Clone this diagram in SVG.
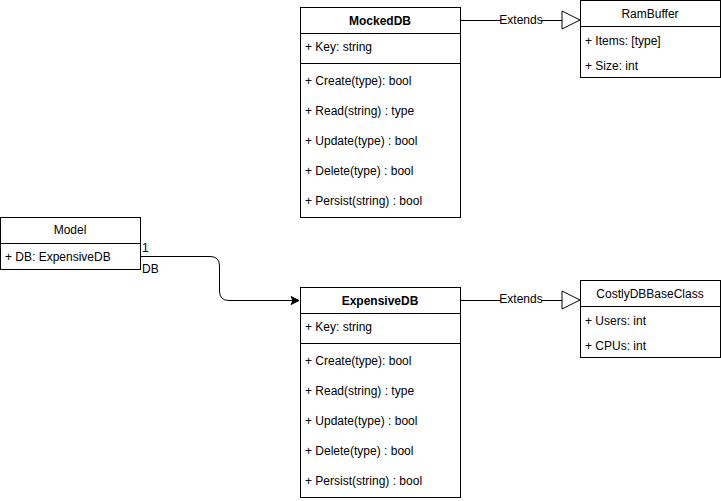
<svg xmlns="http://www.w3.org/2000/svg" width="721" height="501" viewBox="0 0 721 501">
<defs>
<style>
text{font-family:"Liberation Sans",Arial,sans-serif;font-size:12px;fill:#000;dominant-baseline:central}
.box{fill:#fff;stroke:#000;stroke-width:1}
.ln{stroke:#000;stroke-width:1;fill:none}
.t{text-anchor:middle}
.b{font-weight:bold}
</style>
<marker id="arr" markerWidth="10" markerHeight="10" refX="9" refY="5" orient="auto" markerUnits="userSpaceOnUse">
<path d="M1,1 L9,5 L1,9 L3,5 Z" fill="#000" stroke="#000"/>
</marker>
</defs>
<rect width="721" height="501" fill="#fff"/>

<g id="connectors">
<path class="ln" d="M460.5,20.5 H562"/>
<polygon points="562,11 580,20 562,29" fill="#fff" stroke="#000"/>
<rect x="501" y="13" width="40" height="14" fill="#fff"/>
<text x="521" y="20" class="t" font-size="11">Extends</text>

<path class="ln" d="M460.5,300.5 H562"/>
<polygon points="562,291 580,300 562,309" fill="#fff" stroke="#000"/>
<rect x="501" y="293" width="40" height="14" fill="#fff"/>
<text x="521" y="299" class="t" font-size="11">Extends</text>

<path class="ln" d="M140,256.5 H210 Q219.5,256.5 219.5,266 V291 Q219.5,300.5 229,300.5 H299" marker-end="url(#arr)"/>
<text x="142" y="248" font-size="10">1</text>
<text x="142" y="269" font-size="11">DB</text>
</g>

<g id="MockedDB">
<rect class="box" x="300.5" y="7.5" width="160" height="210"/>
<path class="ln" d="M300.5,33.5 H460.5 M300.5,63.5 H460.5"/>
<text x="380" y="20.5" class="t b">MockedDB</text>
<text x="305" y="47">+ Key: string</text>
<text x="305" y="80.5">+ Create(type): bool</text>
<text x="305" y="110.5">+ Read(string) : type</text>
<text x="305" y="140.5">+ Update(type) : bool</text>
<text x="305" y="170.5">+ Delete(type) : bool</text>
<text x="305" y="200.5">+ Persist(string) : bool</text>
</g>

<g id="ExpensiveDB">
<rect class="box" x="300.5" y="287.5" width="160" height="210"/>
<path class="ln" d="M300.5,313.5 H460.5 M300.5,343.5 H460.5"/>
<text x="380" y="300.5" class="t b">ExpensiveDB</text>
<text x="305" y="327">+ Key: string</text>
<text x="305" y="360.5">+ Create(type): bool</text>
<text x="305" y="390.5">+ Read(string) : type</text>
<text x="305" y="420.5">+ Update(type) : bool</text>
<text x="305" y="450.5">+ Delete(type) : bool</text>
<text x="305" y="480.5">+ Persist(string) : bool</text>
</g>

<g id="RamBuffer">
<rect class="box" x="580.5" y="0.5" width="140" height="77"/>
<path class="ln" d="M580.5,26.5 H720.5"/>
<text x="650" y="14" class="t">RamBuffer</text>
<text x="585" y="40.5">+ Items: [type]</text>
<text x="585" y="65.5">+ Size: int</text>
</g>

<g id="CostlyDBBaseClass">
<rect class="box" x="580.5" y="280.5" width="140" height="77"/>
<path class="ln" d="M580.5,306.5 H720.5"/>
<text x="650" y="294" class="t">CostlyDBBaseClass</text>
<text x="585" y="320.5">+ Users: int</text>
<text x="585" y="345.5">+ CPUs: int</text>
</g>

<g id="Model">
<rect class="box" x="0.5" y="217.5" width="140" height="52"/>
<path class="ln" d="M0.5,243.5 H140.5"/>
<text x="70" y="230" class="t">Model</text>
<text x="5" y="257">+ DB: ExpensiveDB</text>
</g>
</svg>
